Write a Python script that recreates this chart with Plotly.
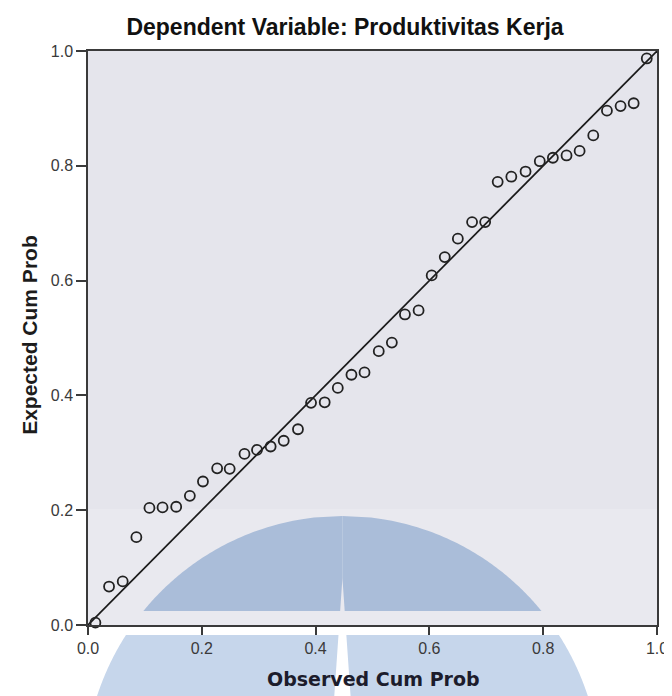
import numpy as np
import plotly.graph_objects as go

# ---- data ----
observed_cum_prob = [0.013, 0.037, 0.061, 0.085, 0.108, 0.131, 0.155, 0.179, 0.202, 0.227,
                     0.249, 0.275, 0.297, 0.321, 0.344, 0.369, 0.392, 0.416, 0.439, 0.463,
                     0.486, 0.511, 0.534, 0.557, 0.581, 0.604, 0.627, 0.650, 0.675, 0.698,
                     0.720, 0.744, 0.769, 0.794, 0.817, 0.841, 0.864, 0.888, 0.912, 0.936,
                     0.959, 0.982]
expected_cum_prob = [0.004, 0.067, 0.076, 0.153, 0.204, 0.205, 0.206, 0.225, 0.250, 0.273,
                     0.272, 0.298, 0.305, 0.311, 0.321, 0.341, 0.387, 0.388, 0.413, 0.436,
                     0.440, 0.477, 0.492, 0.541, 0.548, 0.609, 0.641, 0.673, 0.702, 0.702,
                     0.772, 0.781, 0.790, 0.808, 0.814, 0.818, 0.826, 0.853, 0.896, 0.904,
                     0.909, 0.987]
ref_line_x = [0.0, 1.0]
ref_line_y = [0.0, 1.0]
tick_values = [0.0, 0.2, 0.4, 0.6, 0.8, 1.0]
tick_labels = ["0.0", "0.2", "0.4", "0.6", "0.8", "1.0"]

title_text = "Dependent Variable: Produktivitas Kerja"
x_title = "Observed Cum Prob"
y_title = "Expected Cum Prob"

# ---- layout geometry (pixels) ----
FIG_W, FIG_H = 672, 696
L, RGT, T, B = 80, 657, 43, 617
PW, PH = RGT - L, B - T


def to_paper(px, py):
    return (px - L) / PW, (B - py) / PH


# ---- watermark (scanned logo) decoration ----
cx, cy, rad = 338.0, 770.0, 262.0


def halfw(y):
    return float(np.sqrt(max(rad ** 2 - (y - cy) ** 2, 0.0)))


def gap(y):
    return 0.07 * max(y - 570.0, 0.0)


def poly(y0, y1, side):
    ys = np.linspace(y0, y1, 60)
    pts = [(cx + side * halfw(y), y) for y in ys]
    pts += [(cx + side * gap(y), y) for y in ys[::-1]]
    s = ""
    for i, (px, py) in enumerate(pts):
        x, y = to_paper(px, py)
        s += ("M" if i == 0 else "L") + f"{x:.5f},{y:.5f} "
    return s + "Z"


shapes = []
# slightly lighter lower band of the scanned background
lx0, ly0 = to_paper(L, B)
lx1, ly1 = to_paper(RGT, 501)
shapes.append(dict(type="rect", xref="paper", yref="paper", x0=lx0, x1=lx1, y0=ly0, y1=ly1,
                   fillcolor="#e9e9ef", line=dict(width=0), layer="below"))
for side in (-1, 1):
    shapes.append(dict(type="path", xref="paper", yref="paper", path=poly(cy - rad, 603, side),
                       fillcolor="#aabdd9", line=dict(width=0), layer="below"))
    shapes.append(dict(type="path", xref="paper", yref="paper", path=poly(627, 740, side),
                       fillcolor="#c6d6eb", line=dict(width=0), layer="below"))

fig = go.Figure()
fig.add_trace(go.Scatter(x=ref_line_x, y=ref_line_y, mode="lines",
                         line=dict(color="#1a1a1a", width=1.7), hoverinfo="skip",
                         showlegend=False))
fig.add_trace(go.Scatter(x=observed_cum_prob, y=expected_cum_prob, mode="markers",
                         marker=dict(symbol="circle-open", size=10, color="#222222",
                                     line=dict(width=1.8, color="#222222")),
                         cliponaxis=False, showlegend=False))

axis_common = dict(range=[0, 1], tickvals=tick_values, ticktext=tick_labels,
                   showgrid=False, zeroline=False, showline=True, mirror=True,
                   linecolor="#3a3a3a", linewidth=1.5, ticks="outside",
                   tickwidth=1.5, tickcolor="#3a3a3a",
                   tickfont=dict(family="Liberation Sans, Arial", size=16, color="#3a3a3a"))

fig.update_layout(
    width=FIG_W, height=FIG_H,
    margin=dict(l=L, r=FIG_W - RGT, t=T, b=FIG_H - B),
    paper_bgcolor="white", plot_bgcolor="#e5e5ec",
    xaxis=dict(**axis_common, ticklen=8, ticklabelstandoff=0),
    yaxis=dict(**axis_common, ticklen=10, ticklabelstandoff=0),
    title=dict(text=f"<b>{title_text}</b>", x=337 / FIG_W, xanchor="center",
               y=1 - 19 / FIG_H, yanchor="middle", xref="container", yref="container",
               font=dict(family="Liberation Sans, Arial", size=23, color="#111111")),
    shapes=shapes,
    annotations=[
        dict(text=f"<b>{x_title}</b>", xref="paper", yref="paper",
             x=to_paper(370, 671)[0], y=to_paper(370, 671)[1], xanchor="center", yanchor="middle",
             showarrow=False, font=dict(family="DejaVu Sans", size=19, color="#1c1c2c")),
        dict(text=f"<b>{y_title}</b>", xref="paper", yref="paper", textangle=-90,
             x=to_paper(20, 327)[0], y=to_paper(20, 327)[1], xanchor="center", yanchor="middle",
             showarrow=False, font=dict(family="Liberation Sans, Arial", size=21, color="#1c1c1c")),
    ],
)

fig.write_html("out.html")
